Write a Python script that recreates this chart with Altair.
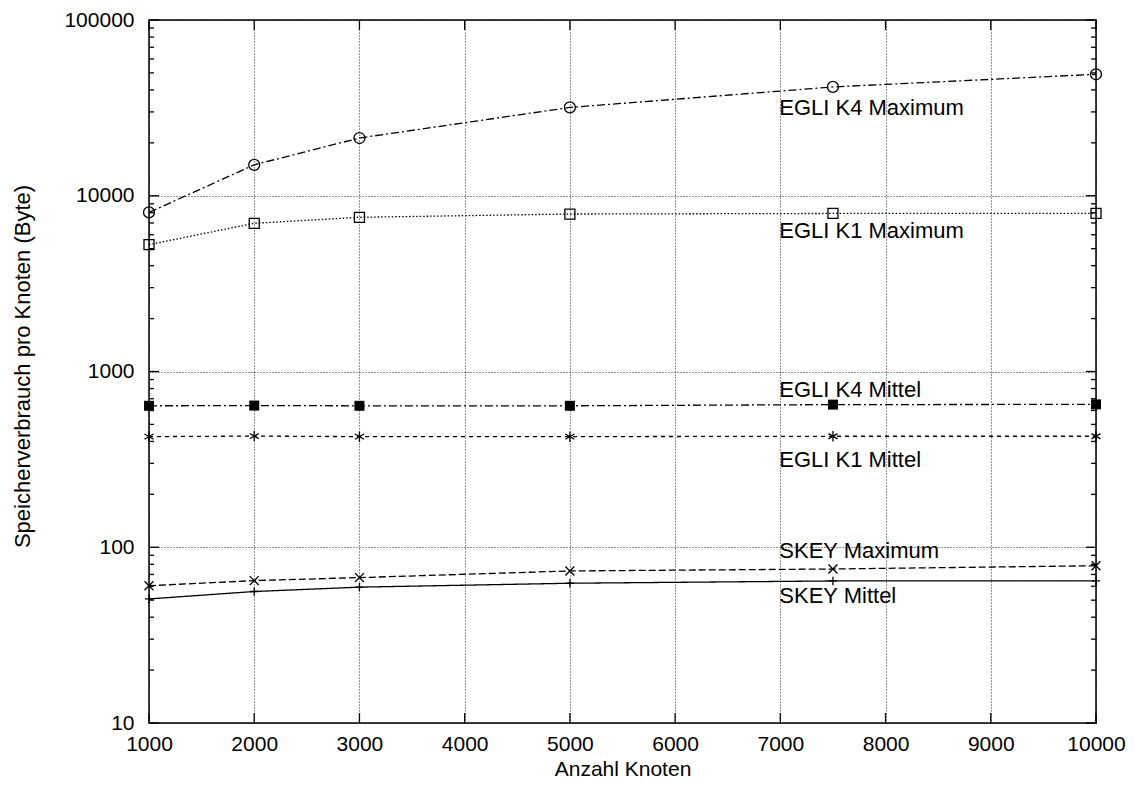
import altair as alt
import pandas as pd

# ---- data ----
nodes = [1000, 2000, 3000, 5000, 7500, 10000]
egli_k4_max = [8035, 15000, 21300, 31800, 41600, 49100]
egli_k1_max = [5270, 6970, 7540, 7870, 7930, 7930]
egli_k4_mittel = [638, 640, 638, 638, 648, 650]
egli_k1_mittel = [426, 429, 426, 426, 428, 428]
skey_max = [60.4, 64.6, 67.2, 73.3, 75.2, 78.5]
skey_mittel = [50.8, 56.0, 59.3, 62.4, 64.3, 64.3]

label_text = ["EGLI K4 Maximum", "EGLI K1 Maximum", "EGLI K4 Mittel",
              "EGLI K1 Mittel", "SKEY Maximum", "SKEY Mittel"]
label_x = [6990, 6990, 6990, 6990, 6990, 6990]
label_y = [28810, 5748, 719, 287, 86.9, 48.2]

x_ticks = [1000, 2000, 3000, 4000, 5000, 6000, 7000, 8000, 9000, 10000]
y_ticks = [10, 100, 1000, 10000, 100000]
y_minor = [20, 30, 40, 50, 60, 70, 80, 90,
           200, 300, 400, 500, 600, 700, 800, 900,
           2000, 3000, 4000, 5000, 6000, 7000, 8000, 9000,
           20000, 30000, 40000, 50000, 60000, 70000, 80000, 90000]

W, H = 947, 703
FONT = "Liberation Sans"

xs = alt.Scale(domain=[1000, 10000], nice=False, zero=False)
ys = alt.Scale(type="log", domain=[10, 100000], nice=False)

x_axis = alt.Axis(
    values=x_ticks, format="d", grid=True, gridDash=[1, 2], gridColor="#000",
    gridOpacity=0.85, ticks=False, domain=False, labelFontSize=21,
    labelFont=FONT, labelPadding=10, labelColor="#000", labelFlush=False,
    labelOverlap=False, labelBound=False,
    title="Anzahl Knoten", titleFont=FONT, titleFontSize=21,
    titleFontWeight="normal", titleColor="#000", titleY=46,
    titleBaseline="middle")
y_axis = alt.Axis(
    values=y_ticks, format="d", grid=True, gridDash=[1, 2], gridColor="#000",
    gridOpacity=0.85, ticks=False, domain=False, labelFontSize=21,
    labelFont=FONT, labelPadding=15, labelColor="#000", labelFlush=False,
    labelOverlap=False, labelBound=False,
    title="Speicherverbrauch pro Knoten (Byte)", titleFont=FONT,
    titleFontSize=22, titleFontWeight="normal", titleColor="#000",
    titleAngle=270, titleX=-127, titleY=346, titleAlign="center",
    titleBaseline="middle")


def X(field):
    return alt.X(field, type="quantitative", scale=xs, axis=x_axis, title="Anzahl Knoten")


def Y(field):
    return alt.Y(field, type="quantitative", scale=ys, axis=y_axis,
                 title="Speicherverbrauch pro Knoten (Byte)")


ASTERISK = "M0,-1L0,1M-0.87,-0.5L0.87,0.5M-0.87,0.5L0.87,-0.5"
XMARK = "M-1,-1L1,1M-1,1L1,-1"
PLUS = "M-1,0L1,0M0,-1L0,1"

series = [
    (egli_k4_max, [8, 3, 2, 3], "circle", False, 120),
    (egli_k1_max, [1.5, 2], "square", False, 100),
    (egli_k4_mittel, [8, 3, 2, 3], "square", True, 100),
    (egli_k1_mittel, [4, 4], ASTERISK, False, 110),
    (skey_max, [7, 3], XMARK, False, 80),
    (skey_mittel, [1, 0], PLUS, False, 70),
]

layers = []

# tick marks (inward, mirrored)
ymaj = pd.DataFrame({"v": y_ticks})
ymin = pd.DataFrame({"v": y_minor})
xmaj = pd.DataFrame({"v": x_ticks})
for df, ln in [(ymaj, 10), (ymin, 5)]:
    layers.append(alt.Chart(df).mark_rule(color="#000", strokeWidth=1.3).encode(
        y=Y("v"), x=alt.value(0), x2=alt.value(ln)))
    layers.append(alt.Chart(df).mark_rule(color="#000", strokeWidth=1.3).encode(
        y=Y("v"), x=alt.value(W - ln), x2=alt.value(W)))
layers.append(alt.Chart(xmaj).mark_rule(color="#000", strokeWidth=1.3).encode(
    x=X("v"), y=alt.value(H - 10), y2=alt.value(H)))
layers.append(alt.Chart(xmaj).mark_rule(color="#000", strokeWidth=1.3).encode(
    x=X("v"), y=alt.value(0), y2=alt.value(10)))

for vals, dash, shape, filled, size in series:
    df = pd.DataFrame({"x": nodes, "y": vals})
    layers.append(alt.Chart(df).mark_line(
        color="#000", strokeWidth=1.3, strokeDash=dash).encode(x=X("x"), y=Y("y")))
    layers.append(alt.Chart(df).mark_point(
        shape=shape, filled=filled, size=size, color="#000", strokeWidth=1.3,
        opacity=1, fill="#000" if filled else "#fff",
        fillOpacity=1 if filled else 0).encode(x=X("x"), y=Y("y")))

lab_df = pd.DataFrame({"t": label_text, "x": label_x, "y": label_y})
layers.append(alt.Chart(lab_df).mark_text(
    align="left", baseline="alphabetic", fontSize=22, font=FONT, color="#000").encode(
    x=X("x"), y=Y("y"), text="t:N"))

chart = alt.layer(*layers).properties(
    width=W, height=H,
    autosize=alt.AutoSizeParams(type="none"),
    padding={"left": 141, "top": 12, "right": 31, "bottom": 58},
    background="#fff",
).configure_view(stroke="#000", strokeWidth=1.5)

chart.save("out.html", embed_options={"renderer": "svg", "actions": False})
